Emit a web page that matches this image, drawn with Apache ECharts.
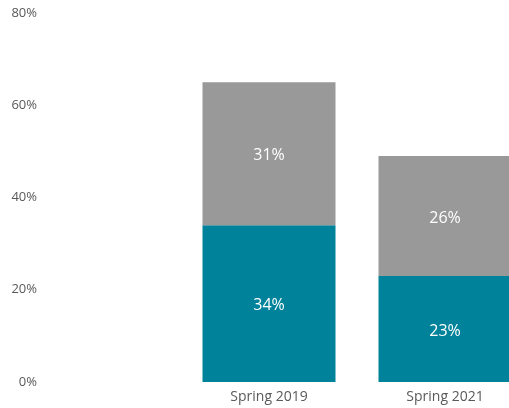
<!DOCTYPE html>
<html>
<head>
<meta charset="utf-8">
<script src="https://cdn.jsdelivr.net/npm/echarts@6/dist/echarts.min.js"></script>
<style>
  html, body { margin: 0; padding: 0; background: #fff; overflow: hidden; }
  /* the source chart is cut off at the right edge, so draw wider than the window */
  #chart { width: 533px; height: 408px; }
</style>
</head>
<body>
<div id="chart"></div>
<script>
  const categories = ['Spring 2019', 'Spring 2021'];
  const lowerValues = [34, 23];
  const upperValues = [31, 26];
  const yTicks = [0, 20, 40, 60, 80];

  const chart = echarts.init(document.getElementById('chart'));
  const font = '"Open Sans", "Noto Sans", sans-serif';

  chart.setOption({
    animation: false,
    textStyle: { fontFamily: font },
    grid: { left: 181, right: 0, top: 13, bottom: 26 },
    xAxis: {
      type: 'category',
      data: categories,
      axisLine: { show: false },
      axisTick: { show: false },
      axisLabel: { color: '#595959', fontSize: 14, margin: 8, fontFamily: font }
    },
    yAxis: {
      type: 'value',
      min: yTicks[0],
      max: yTicks[yTicks.length - 1],
      interval: 20,
      splitLine: { show: false },
      axisLine: { show: false },
      axisTick: { show: false },
      axisLabel: {
        color: '#595959', fontSize: 13, margin: 144, fontFamily: font,
        formatter: v => v + '%'
      }
    },
    series: [
      {
        name: 'lower',
        type: 'bar',
        stack: 'total',
        barWidth: 133,
        data: lowerValues,
        itemStyle: { color: '#00829B' },
        label: {
          show: true, position: 'inside', color: '#fff', fontSize: 16, fontFamily: font,
          offset: [0, 2],
          formatter: p => p.value + '%'
        }
      },
      {
        name: 'upper',
        type: 'bar',
        stack: 'total',
        barWidth: 133,
        data: upperValues,
        itemStyle: { color: '#999999' },
        label: {
          show: true, position: 'inside', color: '#fff', fontSize: 16, fontFamily: font,
          offset: [0, 2],
          formatter: p => p.value + '%'
        }
      }
    ]
  });
</script>
</body>
</html>
